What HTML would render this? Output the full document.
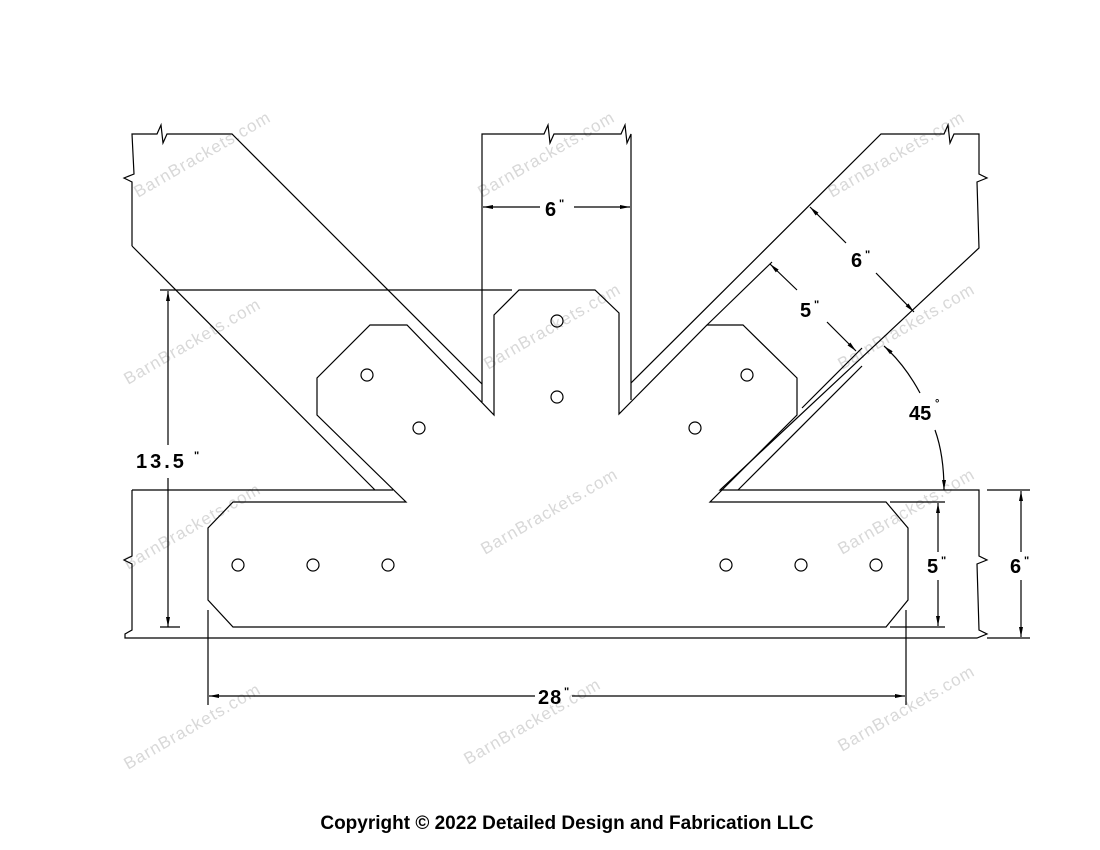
<!DOCTYPE html>
<html><head><meta charset="utf-8"><style>
html,body{margin:0;padding:0;background:#fff;}
svg{display:block;}
.l{stroke:#000;stroke-width:1.2;fill:none;}
.t{font-family:"Liberation Sans",sans-serif;font-weight:bold;font-size:20px;fill:#000;}
.w{font-family:"Liberation Sans",sans-serif;font-size:17px;fill:#d8d8d8;letter-spacing:1px;}
</style></head><body>
<svg width="1100" height="850" viewBox="0 0 1100 850" xmlns="http://www.w3.org/2000/svg">
<defs><marker id="a" viewBox="0 0 10 4" refX="10" refY="2" markerWidth="10" markerHeight="4" orient="auto-start-reverse" markerUnits="userSpaceOnUse"><path d="M0,0L10,2L0,4z" fill="#000"/></marker></defs>
<g class="w">
<text transform="translate(138,198) rotate(-30)">BarnBrackets.com</text>
<text transform="translate(482,198) rotate(-30)">BarnBrackets.com</text>
<text transform="translate(832,198) rotate(-30)">BarnBrackets.com</text>
<text transform="translate(128,385) rotate(-30)">BarnBrackets.com</text>
<text transform="translate(488,370) rotate(-30)">BarnBrackets.com</text>
<text transform="translate(842,370) rotate(-30)">BarnBrackets.com</text>
<text transform="translate(128,570) rotate(-30)">BarnBrackets.com</text>
<text transform="translate(485,555) rotate(-30)">BarnBrackets.com</text>
<text transform="translate(842,555) rotate(-30)">BarnBrackets.com</text>
<text transform="translate(128,770) rotate(-30)">BarnBrackets.com</text>
<text transform="translate(468,765) rotate(-30)">BarnBrackets.com</text>
<text transform="translate(842,752) rotate(-30)">BarnBrackets.com</text>
</g>
<path class="l" d="M132,246 L132,182 L124,178 L134,174 L132,134 L157,134 L161,125 L163,143 L167,134 L232,134 L482,384"/>
<path class="l" d="M132,246 L375,490 M132,490 L393,490"/>
<path class="l" d="M482,402 L482,134 L544,134 L548,125 L550,143 L554,134 L621,134 L625,125 L627,143 L631,134 L631,400"/>
<path class="l" d="M631,383 L881,134 L944,134 L948,125 L950,143 L954,134 L979,134 L979,174 L987,178 L977,182 L979,248 L720,490 L979,490 L979,556 L987,560 L977,564 L979,630 L987,634 L977,638 L125,638 L125,634 L132,630 L132,564 L124,560 L132,556 L132,490"/>
<path class="l" d="M738,490 L862,366"/>
<path class="l" d="M494,415 L494,315 L519,290 L595,290 L619,313 L619,414 L707,325 L743,325 L797,378 L797,415 L710,502 L886,502 L908,528 L908,600 L886,627 L233,627 L208,600 L208,528 L233,502 L406,502 L317,415 L317,378 L370,325 L407,325 Z"/>
<g class="l">
<circle cx="367" cy="375" r="6"/><circle cx="419" cy="428" r="6"/><circle cx="557" cy="321" r="6"/><circle cx="557" cy="397" r="6"/><circle cx="695" cy="428" r="6"/><circle cx="747" cy="375" r="6"/>
<circle cx="238" cy="565" r="6"/><circle cx="313" cy="565" r="6"/><circle cx="388" cy="565" r="6"/><circle cx="726" cy="565" r="6"/><circle cx="801" cy="565" r="6"/><circle cx="876" cy="565" r="6"/>
</g>
<g class="l" stroke-width="1">
<path d="M540,207 L483,207" marker-end="url(#a)"/><path d="M574,207 L630,207" marker-end="url(#a)"/>
<path d="M846,243 L810,207" marker-end="url(#a)"/><path d="M876,273 L914,312" marker-end="url(#a)"/>
<path d="M797,290 L770,264" marker-end="url(#a)"/><path d="M827,322 L856,351" marker-end="url(#a)"/>
<path d="M802,408 L862,348 M707,325 L772,262"/>
<path d="M920,393 Q905,365 884,346" marker-end="url(#a)"/><path d="M935,430 Q944,455 944,490" marker-end="url(#a)"/>
<path d="M160,290 L512,290"/>
<path d="M168,445 L168,291" marker-end="url(#a)"/><path d="M168,478 L168,627" marker-end="url(#a)"/>
<path d="M160,627 L180,627"/>
<path d="M890,502 L945,502 M890,627 L945,627"/>
<path d="M938,552 L938,503" marker-end="url(#a)"/><path d="M938,580 L938,626" marker-end="url(#a)"/>
<path d="M987,490 L1030,490 M987,638 L1030,638"/>
<path d="M1021,552 L1021,491" marker-end="url(#a)"/><path d="M1021,580 L1021,637" marker-end="url(#a)"/>
<path d="M208,610 L208,705 M906,610 L906,705"/>
<path d="M535,696 L209,696" marker-end="url(#a)"/><path d="M572,696 L905,696" marker-end="url(#a)"/>
</g>
<g class="t">
<text x="545" y="216">6</text><text x="559" y="207" font-size="11">"</text>
<text x="851" y="267">6</text><text x="865" y="258" font-size="11">"</text>
<text x="800" y="317">5</text><text x="814" y="308" font-size="11">"</text>
<text x="909" y="420">45</text><text x="935" y="407" font-size="11">°</text>
<text x="136" y="468" letter-spacing="3">13.5</text><text x="194" y="459" font-size="11">"</text>
<text x="927" y="573">5</text><text x="941" y="564" font-size="11">"</text>
<text x="1010" y="573">6</text><text x="1024" y="564" font-size="11">"</text>
<text x="538" y="704" letter-spacing="1">28</text><text x="564" y="695" font-size="11">"</text>
</g>
<text x="567" y="829" text-anchor="middle" font-family="Liberation Sans, sans-serif" font-weight="bold" font-size="19" fill="#000">Copyright © 2022 Detailed Design and Fabrication LLC</text>
</svg>
</body></html>
